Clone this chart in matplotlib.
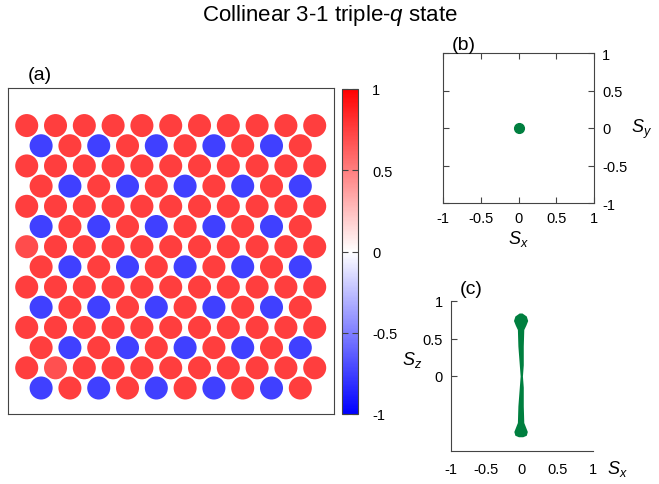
import numpy as np
import matplotlib
matplotlib.use('Agg')
import matplotlib.pyplot as plt
from matplotlib import cm
from matplotlib.colors import Normalize

plt.rcParams['font.family'] = ['Liberation Sans', 'DejaVu Sans']
plt.rcParams['mathtext.fontset'] = 'custom'
plt.rcParams['mathtext.rm'] = 'Liberation Sans'
plt.rcParams['mathtext.it'] = 'Liberation Sans:italic'

# Sz on each site, rows listed from top to bottom
sz_rows = [
    [0.75, 0.75, 0.75, 0.75, 0.75, 0.75, 0.75, 0.75, 0.75, 0.75, 0.75],
    [-0.75, 0.75, -0.75, 0.75, -0.75, 0.75, -0.75, 0.75, -0.75, 0.75],
    [0.75, 0.75, 0.75, 0.75, 0.75, 0.75, 0.75, 0.75, 0.75, 0.75, 0.75],
    [0.75, -0.75, 0.75, -0.75, 0.75, -0.75, 0.75, -0.75, 0.75, -0.75],
    [0.75, 0.75, 0.75, 0.75, 0.75, 0.75, 0.75, 0.75, 0.75, 0.75, 0.75],
    [-0.75, 0.75, -0.75, 0.75, -0.75, 0.75, -0.75, 0.75, -0.75, 0.75],
    [0.7, 0.75, 0.75, 0.75, 0.75, 0.75, 0.75, 0.75, 0.75, 0.75, 0.75],
    [0.75, -0.75, 0.75, -0.75, 0.75, -0.75, 0.75, -0.75, 0.75, -0.75],
    [0.75, 0.75, 0.75, 0.75, 0.75, 0.75, 0.75, 0.75, 0.75, 0.75, 0.75],
    [-0.75, 0.75, -0.75, 0.75, -0.75, 0.75, -0.75, 0.75, -0.75, 0.75],
    [0.75, 0.75, 0.75, 0.75, 0.75, 0.75, 0.75, 0.75, 0.75, 0.75, 0.75],
    [0.75, -0.75, 0.75, -0.75, 0.75, -0.75, 0.75, -0.75, 0.75, -0.75],
    [0.75, 0.68, 0.75, 0.75, 0.75, 0.75, 0.75, 0.75, 0.75, 0.75, 0.75],
    [-0.75, 0.75, -0.75, 0.75, -0.75, 0.75, -0.75, 0.75, -0.75, 0.75],
]

# spin distribution in (Sx, Sz) plane: Sz levels, centre Sx and spread in Sx
dist_sz = [-0.81, -0.79, -0.74, -0.68, -0.62, -0.40, -0.15, 0.0, 0.15, 0.40, 0.62, 0.68, 0.74, 0.80, 0.84]
dist_sx = [-0.02, -0.02, -0.02, -0.02, -0.02, -0.02, -0.01, -0.01, -0.01, -0.02, -0.02, -0.02, -0.02, -0.02, -0.02]
dist_w = [0.03, 0.08, 0.095, 0.07, 0.045, 0.038, 0.028, 0.016, 0.028, 0.038, 0.045, 0.075, 0.1, 0.08, 0.02]

# in-plane components (Sx, Sy)
sxy_x = [0.0]
sxy_y = [0.0]

ticks = [-1, -0.5, 0, 0.5, 1]
tick_labels = ['-1', '-0.5', '0', '0.5', '1']
green = '#007f3f'
spine_c = '#444444'

W, H = 659, 485
fig = plt.figure(figsize=(W / 100, H / 100), dpi=100)

def box(l, t, r, b):
    return [l / W, 1 - b / H, (r - l) / W, (b - t) / H]

fig.text(330 / W, 1 - 16 / H, 'Collinear 3-1 triple-$q$ state', ha='center', va='center', fontsize=16)

# (a) lattice
ax = fig.add_axes(box(8, 89, 334, 415))
xs, ys, cs = [], [], []
nrow = len(sz_rows)
for r, row in enumerate(sz_rows):
    off = 0.0 if len(row) == 11 else 0.5
    for i, v in enumerate(row):
        xs.append(i + off)
        ys.append((nrow - 1 - r) * np.sqrt(3) / 2)
        cs.append(v)
ax.scatter(xs, ys, c=cs, cmap='bwr', vmin=-1, vmax=1, s=275, linewidths=0)
ax.set_xlim(-0.65, 10.67)
ax.set_ylim(-1.115, 12.87)
ax.set_xticks([])
ax.set_yticks([])
for s in ax.spines.values():
    s.set_color(spine_c)
fig.text(40 / W, 1 - 76 / H, '(a)', ha='center', va='center', fontsize=14)

# colorbar
cax = fig.add_axes(box(342, 90, 358, 415))
cb = fig.colorbar(cm.ScalarMappable(norm=Normalize(-1, 1), cmap='bwr'), cax=cax)
cb.set_ticks(ticks)
cb.set_ticklabels(tick_labels)
cb.outline.set_edgecolor(spine_c)
cax.tick_params(direction='in', left=True, right=True, length=4, width=0.8,
                color=spine_c, labelsize=10.5, pad=10)

# (b) Sx-Sy
axb = fig.add_axes(box(443, 54, 594, 204))
axb.plot(sxy_x, sxy_y, 'o', color=green, ms=7)
axb.set_xlim(-1, 1)
axb.set_ylim(-1, 1)
axb.set_xticks(ticks)
axb.set_xticklabels(tick_labels)
axb.set_yticks(ticks)
axb.set_yticklabels(tick_labels)
axb.tick_params(direction='in', top=True, right=True, left=True, bottom=True,
                labelleft=False, labelright=True, length=4, width=0.8,
                color=spine_c, labelsize=10.5, pad=6)
for s in axb.spines.values():
    s.set_color(spine_c)
axb.set_xlabel('$S_x$', fontsize=13, labelpad=2)
axb.yaxis.set_label_position('right')
axb.set_ylabel('$S_y$', fontsize=13, rotation=0, labelpad=10, va='center')
fig.text(464 / W, 1 - 45 / H, '(b)', ha='center', va='center', fontsize=14)

# (c) Sx-Sz
axc = fig.add_axes(box(451, 302, 593, 452))
axc.fill_betweenx(dist_sz, np.array(dist_sx) - np.array(dist_w),
                  np.array(dist_sx) + np.array(dist_w), color=green, lw=0)
axc.set_xlim(-1, 1)
axc.set_ylim(-1, 1)
axc.set_xticks(ticks)
axc.set_xticklabels(tick_labels)
axc.set_yticks([0, 0.5, 1])
axc.set_yticklabels(['0', '0.5', '1'])
axc.tick_params(axis='y', direction='in', length=4, width=0.8, color=spine_c,
                labelsize=10.5, pad=6)
axc.tick_params(axis='x', length=0, labelsize=10.5, pad=8)
axc.spines['top'].set_visible(False)
axc.spines['right'].set_visible(False)
axc.spines['left'].set_color(spine_c)
axc.spines['bottom'].set_color(spine_c)
fig.text(412 / W, 1 - 360 / H, '$S_z$', ha='center', va='center', fontsize=13)
fig.text(617 / W, 1 - 469 / H, '$S_x$', ha='center', va='center', fontsize=13)
fig.text(471 / W, 1 - 290 / H, '(c)', ha='center', va='center', fontsize=14)

fig.savefig('out.png', dpi=100)
